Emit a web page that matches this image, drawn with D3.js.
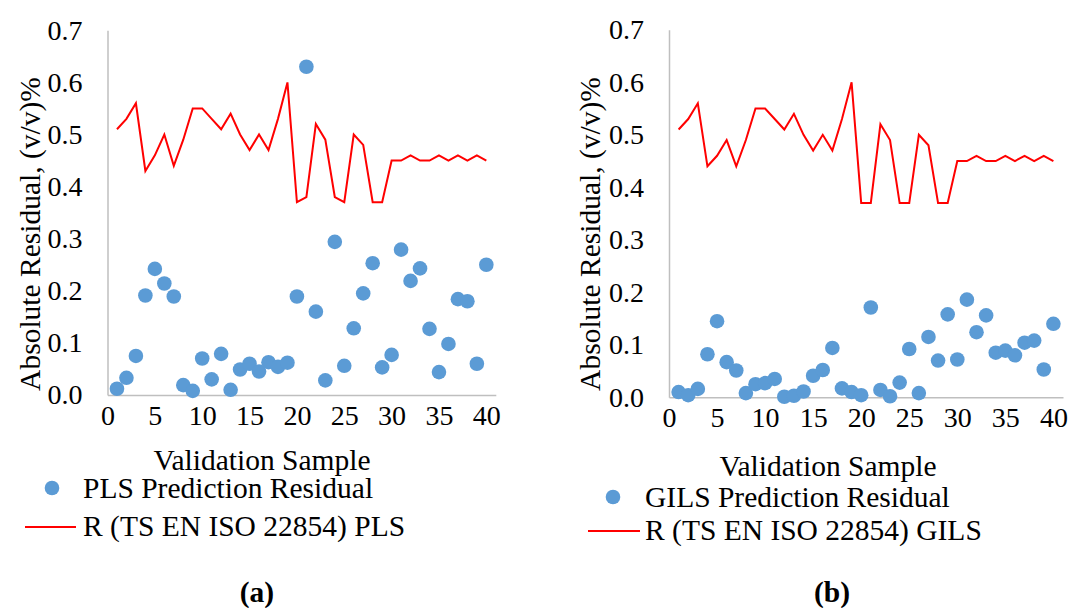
<!DOCTYPE html>
<html>
<head>
<meta charset="utf-8">
<script src="https://cdn.jsdelivr.net/npm/d3@7"></script>
<style>
  html, body { margin: 0; padding: 0; background: #ffffff; }
  svg { display: block; }
  text { font-family: "Liberation Serif", "Times New Roman", serif; fill: #000; }
</style>
</head>
<body>
<svg id="chart" width="1069" height="608"></svg>
<script>
// Validation sample numbers
const samples = [1,2,3,4,5,6,7,8,9,10,11,12,13,14,15,16,17,18,19,20,
                 21,22,23,24,25,26,27,28,29,30,31,32,33,34,35,36,37,38,39,40];

// PLS model: absolute prediction residuals and reproducibility limit R
const plsResidual = [0.012,0.033,0.075,0.191,0.242,0.214,0.189,0.019,0.008,0.070,
                     0.030,0.079,0.010,0.049,0.060,0.045,0.063,0.054,0.062,0.189,
                     0.630,0.160,0.028,0.294,0.056,0.128,0.195,0.253,0.053,0.077,
                     0.279,0.219,0.243,0.127,0.044,0.098,0.184,0.180,0.060,0.250];
const plsR = [0.51,0.53,0.56,0.43,0.46,0.50,0.44,0.49,0.55,0.55,
              0.53,0.51,0.54,0.50,0.47,0.50,0.47,0.53,0.60,0.37,
              0.38,0.52,0.49,0.38,0.37,0.50,0.48,0.37,0.37,0.45,
              0.45,0.46,0.45,0.45,0.46,0.45,0.46,0.45,0.46,0.45];

// GILS model: absolute prediction residuals and reproducibility limit R
const gilsResidual = [0.010,0.004,0.016,0.082,0.145,0.067,0.051,0.008,0.025,0.027,
                      0.035,0.001,0.003,0.011,0.041,0.052,0.094,0.017,0.010,0.004,
                      0.171,0.014,0.002,0.028,0.092,0.008,0.115,0.070,0.158,0.072,
                      0.186,0.124,0.156,0.085,0.089,0.080,0.104,0.108,0.053,0.140];
const gilsR = [0.51,0.53,0.56,0.44,0.46,0.49,0.44,0.49,0.55,0.55,
               0.53,0.51,0.54,0.50,0.47,0.50,0.47,0.53,0.60,0.37,
               0.37,0.52,0.49,0.37,0.37,0.50,0.48,0.37,0.37,0.45,
               0.45,0.46,0.45,0.45,0.46,0.45,0.46,0.45,0.46,0.45];

// Axis ticks
const xTicks = [0,5,10,15,20,25,30,35,40];
const yTicks = [0.0,0.1,0.2,0.3,0.4,0.5,0.6,0.7];

const DOT = "#5B9BD5", LINE = "#FF0000", AXIS = "#BFBFBF";
const TICK_FS = 28;   // tick label size
const FS = 29.5;      // titles, legend, caption

const svg = d3.select("#chart");

function drawPanel(p) {
  const g = svg.append("g");
  const x = d3.scaleLinear().domain([0, 41]).range([p.left, p.right]);
  const y = d3.scaleLinear().domain([0, 0.7]).range([p.bottom, p.top]);

  // y axis: gray spine, labels only
  const ya = g.append("g").attr("transform", `translate(${p.left},0)`)
    .call(d3.axisLeft(y).tickValues(yTicks).tickFormat(d3.format(".1f")).tickSize(0).tickPadding(p.yPad));
  ya.select(".domain").attr("stroke", AXIS).attr("stroke-width", 1.5);
  ya.selectAll("text").style("font-size", TICK_FS + "px").style("font-family", "Liberation Serif");

  // x axis
  const xa = g.append("g").attr("transform", `translate(0,${p.bottom})`)
    .call(d3.axisBottom(x).tickValues(xTicks).tickFormat(d3.format("d")).tickSize(0).tickPadding(p.xPad));
  xa.select(".domain").attr("stroke", AXIS).attr("stroke-width", 1.5);
  xa.selectAll("text").style("font-size", TICK_FS + "px").style("font-family", "Liberation Serif");

  // reproducibility limit line
  const line = d3.line().x((d, i) => x(samples[i])).y(d => y(d));
  g.append("path").datum(p.limit)
    .attr("fill", "none").attr("stroke", LINE).attr("stroke-width", 2)
    .attr("stroke-linejoin", "miter").attr("d", line);

  // residual points
  g.selectAll("circle.res").data(p.residual).join("circle")
    .attr("class", "res")
    .attr("cx", (d, i) => x(samples[i])).attr("cy", d => y(d))
    .attr("r", 7.3).attr("fill", DOT);

  // axis titles
  g.append("text").attr("x", p.xTitleX).attr("y", p.xTitleY)
    .attr("text-anchor", "middle").attr("dominant-baseline", "central")
    .style("font-size", FS + "px").text("Validation Sample");
  g.append("text")
    .attr("transform", `translate(${p.yTitleX},${p.yTitleY}) rotate(-90)`)
    .attr("text-anchor", "middle").attr("dominant-baseline", "central")
    .style("font-size", FS + "px").text("Absolute Residual, (v/v)%");

  // legend
  g.append("circle").attr("cx", p.legDotX).attr("cy", p.legDotY).attr("r", 7.3).attr("fill", DOT);
  g.append("text").attr("x", p.legTextX).attr("y", p.legDotY)
    .attr("dominant-baseline", "central").style("font-size", FS + "px").text(p.residualName);
  g.append("line").attr("x1", p.legLineX1).attr("x2", p.legLineX2)
    .attr("y1", p.legLineY).attr("y2", p.legLineY)
    .attr("stroke", LINE).attr("stroke-width", 2);
  g.append("text").attr("x", p.legTextX).attr("y", p.legLineY - 1)
    .attr("dominant-baseline", "central").style("font-size", FS + "px").text(p.limitName);

  // panel caption
  g.append("text").attr("x", p.capX).attr("y", p.capY)
    .attr("text-anchor", "middle").attr("dominant-baseline", "central")
    .style("font-size", FS + "px").style("font-weight", "bold").text(p.caption);
}

drawPanel({
  left: 107.5, right: 495.8, top: 30.3, bottom: 395,
  yPad: 25, xPad: 10,
  residual: plsResidual, limit: plsR,
  residualName: "PLS Prediction Residual", limitName: "R (TS EN ISO 22854) PLS",
  xTitleX: 262, xTitleY: 460, yTitleX: 30, yTitleY: 234,
  legDotX: 52, legDotY: 488, legTextX: 83, legLineX1: 25, legLineX2: 76, legLineY: 527,
  capX: 257, capY: 592, caption: "(a)"
});

drawPanel({
  left: 669, right: 1063, top: 29.8, bottom: 397.3,
  yPad: 25, xPad: 10,
  residual: gilsResidual, limit: gilsR,
  residualName: "GILS Prediction Residual", limitName: "R (TS EN ISO 22854) GILS",
  xTitleX: 828, xTitleY: 466, yTitleX: 590, yTitleY: 234,
  legDotX: 613, legDotY: 497, legTextX: 645, legLineX1: 588, legLineX2: 640, legLineY: 531,
  capX: 832, capY: 592, caption: "(b)"
});
</script>
</body>
</html>
